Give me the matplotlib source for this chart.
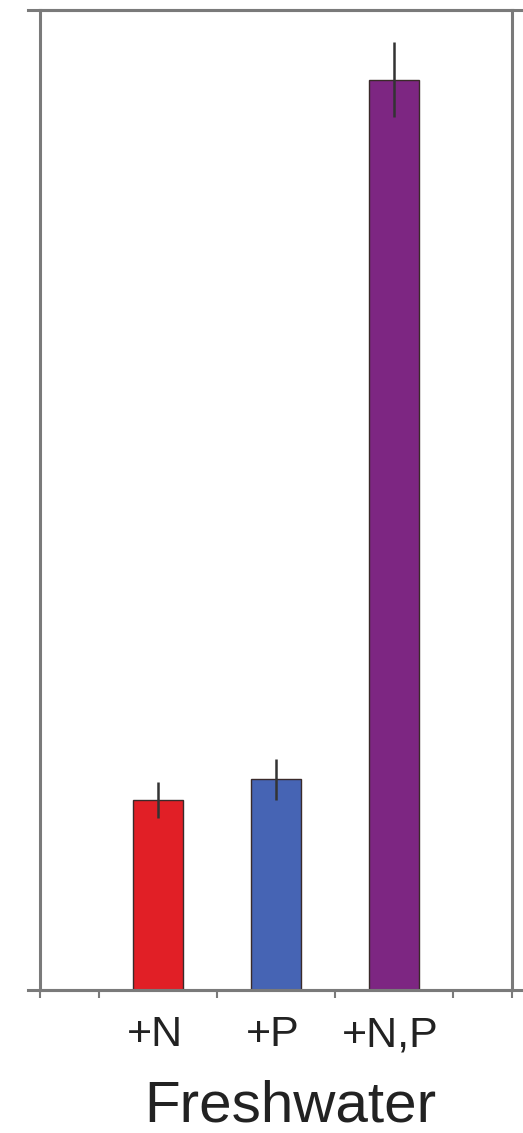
import matplotlib
matplotlib.use("Agg")
import matplotlib.pyplot as plt
from matplotlib.lines import Line2D

# Data
categories = ["+N", "+P", "+N,P"]
values = [19.4, 21.5, 92.9]
errors = [1.8, 2.1, 3.8]
colors = ["#e11f26", "#4664b4", "#7d2682"]
group_label = "Freshwater"

W, H = 523, 1133
fig = plt.figure(figsize=(W / 100, H / 100), dpi=100)
fig.patch.set_facecolor("white")

ax_left, ax_right = 40 / W, 512 / W
ax_bottom, ax_top = (H - 990) / H, (H - 10) / H
ax = fig.add_axes([ax_left, ax_bottom, ax_right - ax_left, ax_top - ax_bottom])

spine_col = "#7a7a7a"
positions = [1, 2, 3]
ax.bar(positions, values, width=0.42, color=colors, edgecolor="#3a2a2a",
       linewidth=1.0, zorder=2)
ax.errorbar(positions, values, yerr=errors, fmt="none", ecolor="#333333",
            elinewidth=1.8, capsize=0, zorder=3)

ax.set_xlim(0, 4)
ax.set_ylim(0, 100)

for side in ["left", "right", "top", "bottom"]:
    ax.spines[side].set_color(spine_col)
    ax.spines[side].set_linewidth(2.2)

ax.set_yticks([])
ax.set_xticks([0, 0.5, 1.5, 2.5, 3.5, 4])
ax.set_xticklabels([])
ax.tick_params(axis="x", direction="out", length=6, width=1.5, color=spine_col)

for x, lab in zip(positions, categories):
    ax.text(x - 0.03, -2.6, lab, ha="center", va="top", fontsize=31,
            family="Liberation Sans", color="#222222", clip_on=False)

fig.text(290 / W, (H - 1121) / H, group_label, ha="center", va="baseline",
         fontsize=42, family="Liberation Sans", color="#222222")

# Frame lines continuing past the panel edges
for yy in (ax_top, ax_bottom):
    fig.add_artist(Line2D([28 / W, 1.0], [yy, yy], color=spine_col,
                          linewidth=2.2, transform=fig.transFigure))

fig.savefig("out.png", dpi=100, facecolor="white")
